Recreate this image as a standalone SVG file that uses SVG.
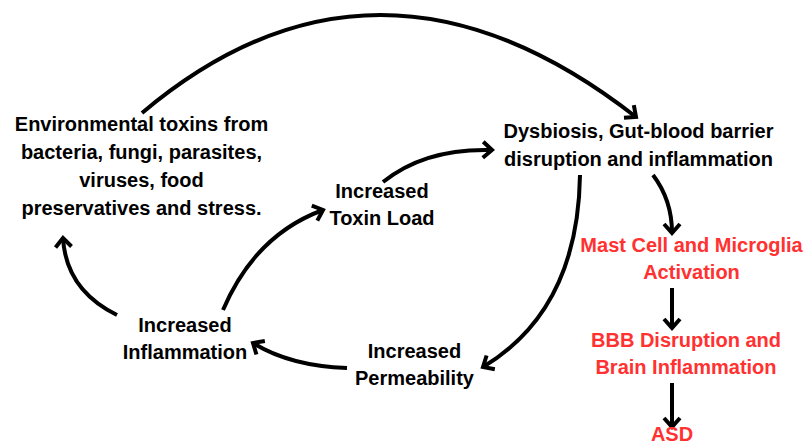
<svg xmlns="http://www.w3.org/2000/svg" width="804" height="441" viewBox="0 0 804 441">
<defs>
<style>
.t{font-family:"Liberation Sans",Arial,sans-serif;font-weight:bold;font-size:20px;text-anchor:middle;fill:#000}
.r{fill:#ff3131}
.c{fill:none;stroke:#000;stroke-width:4;stroke-linecap:butt}
</style>
<marker id="ah" markerUnits="userSpaceOnUse" markerWidth="30" markerHeight="30" viewBox="-15 -15 30 30" refX="0" refY="0" orient="auto" overflow="visible">
<path d="M-9,-8 L0,0 L-9,8" fill="none" stroke="#000" stroke-width="4" stroke-linejoin="miter"/>
</marker>
</defs>
<rect width="804" height="441" fill="#fff"/>
<g id="connectors">
<path class="c" d="M142,113 Q377,-85 636,117" marker-end="url(#ah)"/>
<path class="c" d="M383,182 Q425,148 492,150" marker-end="url(#ah)"/>
<path class="c" d="M223,310 Q255,235 323,210" marker-end="url(#ah)"/>
<path class="c" d="M117,315 Q66,290 63,238" marker-end="url(#ah)"/>
<path class="c" d="M347,368 Q290,366 253,343" marker-end="url(#ah)"/>
<path class="c" d="M580,175 Q578,310 483,367" marker-end="url(#ah)"/>
<path class="c" d="M653,175 Q672,200 672,233" marker-end="url(#ah)"/>
<path class="c" d="M672,288 L672,328" marker-end="url(#ah)"/>
<path class="c" d="M672,383 L672,427" marker-end="url(#ah)"/>
</g>
<g id="environmental">
<text class="t" x="141.5" y="131">Environmental toxins from</text>
<text class="t" x="141.5" y="159">bacteria, fungi, parasites,</text>
<text class="t" x="141.5" y="187">viruses, food</text>
<text class="t" x="141.5" y="215">preservatives and stress.</text>
</g>
<g id="dysbiosis">
<text class="t" x="638.5" y="138">Dysbiosis, Gut-blood barrier</text>
<text class="t" x="638.5" y="166">disruption and inflammation</text>
</g>
<g id="toxin-load">
<text class="t" x="382" y="198">Increased</text>
<text class="t" x="382" y="225">Toxin Load</text>
</g>
<g id="inflammation">
<text class="t" x="185" y="332">Increased</text>
<text class="t" x="185" y="359">Inflammation</text>
</g>
<g id="permeability">
<text class="t" x="414.5" y="358">Increased</text>
<text class="t" x="414.5" y="385">Permeability</text>
</g>
<g id="mast-cell">
<text class="t r" x="691.5" y="252">Mast Cell and Microglia</text>
<text class="t r" x="691.5" y="279">Activation</text>
</g>
<g id="bbb">
<text class="t r" x="686" y="347">BBB Disruption and</text>
<text class="t r" x="686" y="374">Brain Inflammation</text>
</g>
<g id="asd">
<text class="t r" x="672" y="441">ASD</text>
</g>
</svg>
